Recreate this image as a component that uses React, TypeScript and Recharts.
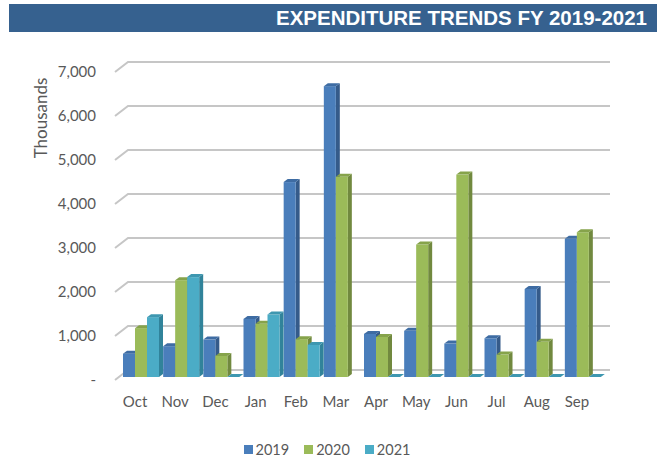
import { BarChart, Bar, XAxis, YAxis, CartesianGrid } from 'recharts';

const months = ['Oct', 'Nov', 'Dec', 'Jan', 'Feb', 'Mar', 'Apr', 'May', 'Jun', 'Jul', 'Aug', 'Sep'];
const fy2019 = [530, 700, 850, 1320, 4430, 6610, 980, 1050, 760, 880, 2000, 3140];
const fy2020 = [1110, 2200, 480, 1210, 860, 4550, 910, 3010, 4600, 510, 800, 3290];
const fy2021 = [1360, 2270, 0, 1420, 730, null, 0, 0, 0, 0, 0, 0];
const yTicks = [0, 1000, 2000, 3000, 4000, 5000, 6000, 7000];

const series = [
  { key: 'y2019', name: '2019', front: '#4a7ebb', side: '#355b8a', top: '#3e6ca3' },
  { key: 'y2020', name: '2020', front: '#9bbb59', side: '#71893f', top: '#86a34b' },
  { key: 'y2021', name: '2021', front: '#4bacc6', side: '#31839a', top: '#3e97b0' },
];

const data = months.map((m, i) => ({ month: m, y2019: fy2019[i], y2020: fy2020[i], y2021: fy2021[i] }));

// 3d look: bars sit a little back from the front plane, walls are deeper
const SX = 6, SY = -3;
const DX = 4, DY = -3;
const GX = 13, GY = -10;

const gray = '#595959';
const font = 'Lato, "Open Sans", sans-serif';

function Bar3D(props: any) {
  const { x, y, width, height, payload, dataKey, front, side, top } = props;
  if (!payload || payload[dataKey] == null || isNaN(y)) return null;
  const l = x + SX;
  const r = l + width;
  const t = y + SY;
  const b = t + height;
  return (
    <g>
      <polygon points={`${r},${t} ${r + DX},${t + DY} ${r + DX},${b + DY} ${r},${b}`} fill={side} />
      <rect x={l} y={t} width={width} height={height} fill={front} />
      <polygon points={`${l},${t} ${l + DX},${t + DY} ${r + DX},${t + DY} ${r},${t}`} fill={top} />
    </g>
  );
}

const gridLine = (p: any) => (
  <polyline
    key={`g-${p.y1}`}
    points={`${p.x1},${p.y1} ${p.x1 + GX},${p.y1 + GY} ${p.x2 + GX},${p.y1 + GY}`}
    fill="none"
    stroke="#c6c6c6"
    strokeWidth={2}
  />
);

export default function App() {
  return (
    <div style={{ position: 'absolute', left: 0, top: 0, width: 665, height: 459, background: '#fff', fontFamily: font }}>
      <div
        style={{
          position: 'absolute', left: 9, top: 4, width: 648, height: 28, background: '#36618f',
          color: '#fff', fontFamily: '"Liberation Sans", Arial, sans-serif', fontWeight: 'bold',
          fontSize: 20.5, lineHeight: '28px', textAlign: 'right', paddingRight: 10, boxSizing: 'border-box',
        }}
      >
        EXPENDITURE TRENDS FY 2019-2021
      </div>

      <div
        style={{
          position: 'absolute', left: 40, top: 118, transform: 'translate(-50%, -50%) rotate(-90deg)',
          color: gray, fontSize: 17, whiteSpace: 'nowrap',
        }}
      >
        Thousands
      </div>

      <BarChart
        width={665}
        height={459}
        data={data}
        margin={{ top: 72, right: 68, bottom: 49, left: 0 }}
        barSize={12}
        barGap={0}
      >
        <CartesianGrid vertical={false} horizontal={gridLine} />
        <XAxis
          dataKey="month"
          height={30}
          axisLine={false}
          tickLine={false}
          tickMargin={10}
          tick={{ fill: gray, fontSize: 15, fontFamily: font }}
          interval={0}
        />
        <YAxis
          width={115}
          domain={[0, 7000]}
          ticks={yTicks}
          axisLine={false}
          tickLine={false}
          tickMargin={13}
          tick={{ fill: gray, fontSize: 15, fontFamily: font }}
          tickFormatter={(v: number) => (v === 0 ? '-  ' : v.toLocaleString('en-US'))}
        />
        {series.map((s) => (
          <Bar
            key={s.key}
            dataKey={s.key}
            name={s.name}
            fill={s.front}
            isAnimationActive={false}
            shape={(p: any) => <Bar3D {...p} dataKey={s.key} front={s.front} side={s.side} top={s.top} />}
          />
        ))}
      </BarChart>

      <div
        style={{
          position: 'absolute', left: 0, width: 654, top: 441, display: 'flex', justifyContent: 'center',
          gap: 15, fontSize: 14.5, color: gray,
        }}
      >
        {series.map((s) => (
          <div key={s.key} style={{ display: 'flex', alignItems: 'center', gap: 3 }}>
            <div style={{ width: 9, height: 9, background: s.front }} />
            <span>{s.name}</span>
          </div>
        ))}
      </div>
    </div>
  );
}
